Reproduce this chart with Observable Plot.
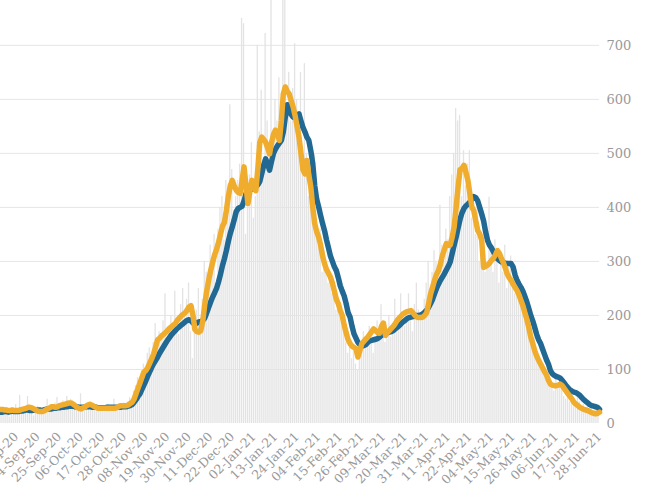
<!DOCTYPE html>
<html><head><meta charset="utf-8">
<script src="https://cdn.jsdelivr.net/npm/d3@7"></script>
<script src="https://cdn.jsdelivr.net/npm/@observablehq/plot@0.6"></script>
<style>body{margin:0;overflow:hidden;background:#fff}</style>
</head><body><div id="chart"></div>
<script>
// day index 0 = 14-Sep-20; first value is index -19
const startIndex = -19;
const tickLabels = ["03-Sep-20","14-Sep-20","25-Sep-20","06-Oct-20","17-Oct-20","28-Oct-20","08-Nov-20","19-Nov-20","30-Nov-20","11-Dec-20","22-Dec-20","02-Jan-21","13-Jan-21","24-Jan-21","04-Feb-21","15-Feb-21","26-Feb-21","09-Mar-21","20-Mar-21","31-Mar-21","11-Apr-21","22-Apr-21","04-May-21","15-May-21","26-May-21","06-Jun-21","17-Jun-21","28-Jun-21"];
const yTicks = [0,100,200,300,400,500,600,700];

const daily = [
18,25,22,30,15,12,28,24,35,20,
52,18,26,30,50,24,20,14,28,32,
25,20,18,30,45,26,22,35,38,48,
30,28,42,35,50,32,45,40,26,30,
25,55,28,34,38,30,40,28,35,22,
30,26,28,32,24,36,30,28,45,24,
28,35,30,38,25,40,48,45,60,70,
85,70,95,110,90,130,140,120,150,185,
140,170,160,190,240,150,180,200,175,245,
190,165,220,250,200,230,260,170,120,185,
210,250,170,230,300,280,260,330,290,350,
260,360,400,420,340,450,430,590,470,380,
420,450,480,750,740,350,400,460,520,380,
420,700,540,617,480,722,560,480,790,520,
600,560,640,530,800,800,560,650,560,620,
703,600,520,650,480,666,500,420,460,380,
500,380,330,360,280,320,300,260,280,240,
250,210,230,200,180,170,150,130,160,120,
140,110,100,150,130,170,140,160,180,150,
130,160,190,170,220,180,150,170,200,160,
180,230,170,200,240,190,180,210,240,200,
170,220,260,210,190,200,230,260,300,250,
280,320,300,260,404,330,300,360,340,420,
460,500,583,560,570,420,505,440,480,505,
380,420,350,400,300,330,350,280,300,419,
320,280,340,300,260,310,280,330,250,290,
310,260,240,280,230,250,220,200,210,170,
180,150,160,130,120,110,100,90,95,80,
70,75,60,85,65,80,70,50,45,60,
40,50,45,35,55,40,30,35,25,30,
25,30,20,22,18,28];

const blueAvg = [
21,21,22,22,21,22,23,22,22,22,
23,23,24,25,25,24,24,25,25,25,
25,24,25,26,27,27,27,28,28,29,
29,30,30,31,31,32,32,32,31,31,
30,30,30,31,31,31,31,30,30,30,
29,29,29,29,30,30,30,30,30,30,
30,30,31,31,31,32,33,35,39,44,
50,55,63,71,79,88,96,104,111,117,
123,130,136,142,148,154,159,164,168,172,
176,179,182,185,188,191,192,190,186,184,
186,188,189,191,195,205,215,225,234,242,
250,262,276,292,305,320,337,352,364,377,
392,398,400,402,412,425,430,432,434,435,
438,442,448,462,478,490,480,469,485,500,
508,514,519,524,540,566,590,585,572,567,
568,571,573,560,548,540,530,524,505,481,
440,415,401,385,370,357,340,325,310,300,
290,283,270,255,245,236,222,205,197,180,
166,158,150,146,144,144,146,150,153,154,
155,156,157,160,163,166,167,168,169,170,
172,175,178,181,185,188,191,194,196,197,
198,199,200,200,201,203,206,210,215,222,
230,240,250,258,265,271,277,284,291,299,
315,330,345,362,378,390,398,403,406,410,
415,420,418,412,400,388,375,355,339,330,
325,318,310,305,302,299,298,297,296,296,
296,290,275,265,258,252,245,235,225,213,
200,190,178,165,155,148,138,128,118,110,
98,92,89,87,86,84,80,75,70,66,
62,60,58,57,55,52,48,44,41,38,
35,33,32,31,30,26];

const yellowAvg = [
26,26,25,25,24,24,25,24,24,24,
25,26,27,28,30,30,29,27,25,23,
22,22,23,25,27,29,31,31,30,31,
33,34,35,36,37,38,38,36,33,30,
28,27,29,31,33,35,35,33,31,29,
28,28,28,28,28,28,28,28,28,29,
31,33,33,33,33,34,37,39,45,55,
65,75,85,95,98,104,112,120,129,142,
155,158,162,165,168,172,176,179,182,185,
191,195,199,202,205,210,216,218,200,174,
170,169,172,190,220,245,265,283,298,312,
322,335,350,365,372,394,420,440,450,440,
432,428,426,450,475,440,407,430,450,440,
431,470,520,530,526,521,510,499,520,535,
543,535,524,560,610,623,615,610,598,586,
570,550,530,500,470,462,487,460,438,400,
370,355,345,330,310,296,285,278,271,260,
245,230,222,209,200,182,168,155,148,143,
141,138,123,135,148,152,156,160,165,170,
175,172,168,167,180,186,163,168,172,176,
180,185,191,195,199,203,205,207,208,209,
205,200,197,196,196,197,200,205,222,240,
252,265,276,283,295,311,322,333,330,330,
345,364,400,438,470,472,478,465,450,425,
401,394,375,357,351,340,289,291,293,297,
302,306,312,320,315,306,298,288,277,270,
265,258,252,246,238,228,218,205,193,178,
160,148,135,125,117,110,103,96,90,80,
73,71,70,70,71,73,70,65,60,55,
50,45,39,36,33,30,28,26,25,24,
22,20,19,18,19,21];

const n = Math.min(daily.length, blueAvg.length, yellowAvg.length);
const rows = d3.range(n).map(k => ({i: startIndex + k, v: daily[k], b: blueAvg[k], y: yellowAvg[k]}));
const tickPos = tickLabels.map((_, k) => -11 + 11 * k);

const chart = Plot.plot({
  width: 652, height: 498,
  marginLeft: 0, marginRight: 53, marginTop: 0, marginBottom: 75,
  style: {fontFamily: "DejaVu Serif", background: "#fff", color: "#999"},
  x: {domain: [-19, 286], axis: null, label: null},
  y: {domain: [0, 783], axis: null, label: null},
  marks: [
    Plot.gridY(yTicks.filter(d => d > 0), {stroke: "#e6e6e6", strokeOpacity: 1}),
    Plot.rectY(rows, {x1: d => d.i - 0.33, x2: d => d.i + 0.33, y: "v", fill: "#e3e3e3", clip: true}),
    Plot.line(rows, {x: "i", y: "b", stroke: "#216893", strokeWidth: 5.5, strokeLinejoin: "round", strokeLinecap: "round"}),
    Plot.line(rows, {x: "i", y: "y", stroke: "#f0ac2c", strokeWidth: 5.5, strokeLinejoin: "round", strokeLinecap: "round"}),
    Plot.axisY(yTicks, {anchor: "right", tickSize: 0, tickPadding: 7, fontSize: 13, fill: "#999", label: null}),
    Plot.axisX(tickPos, {tickSize: 0, tickPadding: 11, tickRotate: -45, fontSize: 12.5, fill: "#999", label: null,
      tickFormat: d => tickLabels[Math.round((d + 11) / 11)]})
  ]
});
document.getElementById("chart").appendChild(chart);
</script>
</body></html>
